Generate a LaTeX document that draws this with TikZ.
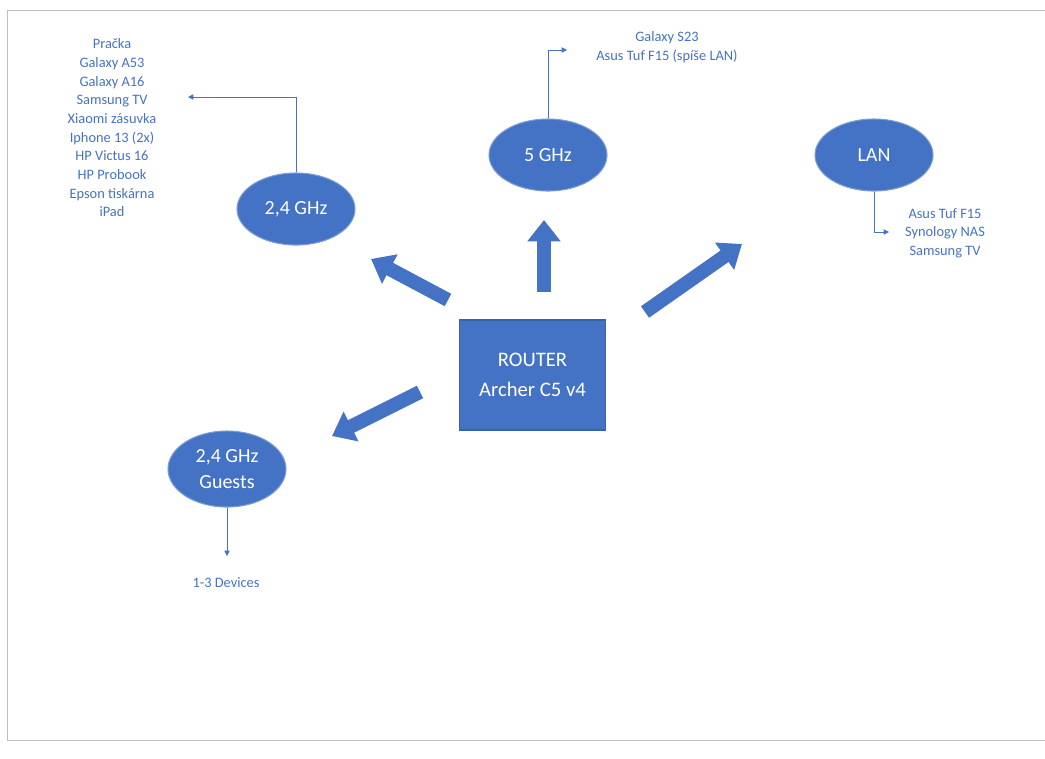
\documentclass[tikz,border=0pt]{standalone}
\usepackage{fontspec}
\setmainfont{Carlito}
\usetikzlibrary{arrows.meta,shapes.geometric}
\definecolor{blu}{HTML}{4472C4}
\definecolor{dblu}{HTML}{2F528F}
\begin{document}
\begin{tikzpicture}[x=0.75pt,y=-0.75pt,
  bubble/.style={ellipse,fill=blu,draw=blu!70,line width=0.8pt,minimum width=88.5pt,minimum height=54pt,text=white,font=\fontsize{15}{20}\selectfont,align=center,inner sep=0},
  big/.style={line width=10.5pt,draw=blu,-{Triangle[length=16pt,width=24pt]}},
  thin/.style={draw=blu,line width=0.6pt,-{Triangle[length=4pt,width=4pt]}},
  lbl/.style={text=blu,font=\fontsize{10.8}{14}\selectfont,align=center,inner sep=0}]
\useasboundingbox (0,0) rectangle (1045,758);
\draw[gray!50,line width=0.6pt] (7,10) rectangle (1045,740);
\node[draw=dblu!50!blu,fill=blu,line width=0.8pt,minimum width=110pt,minimum height=82.5pt,text=white,align=center,font=\fontsize{15.5}{22}\selectfont] (r) at (532.5,375) {ROUTER\\Archer C5 v4};
\node[bubble] (g24) at (296,209) {2,4 GHz};
\node[bubble] (g5) at (548,155) {5 GHz};
\node[bubble] (lan) at (874,155) {LAN};
\node[bubble,minimum height=57pt] (gg) at (227,469) {2,4 GHz\\Guests};
\coordinate (a1s) at (448,300); \coordinate (a1e) at (371,259);
\coordinate (a2s) at (544,292); \coordinate (a2e) at (544,220);
\coordinate (a3s) at (645,312); \coordinate (a3e) at (742,244);
\coordinate (a4s) at (420,392); \coordinate (a4e) at (332,436);
\draw[big] (a1s) -- (a1e);
\draw[big] (a2s) -- (a2e);
\draw[big] (a3s) -- (a3e);
\draw[big] (a4s) -- (a4e);
\node[lbl] (l1) at (112,128) {Pračka\\Galaxy A53\\Galaxy A16\\Samsung TV\\Xiaomi zásuvka\\Iphone 13 (2x)\\HP Victus 16\\HP Probook\\Epson tiskárna\\iPad};
\node[lbl] (l2) at (667,47) {Galaxy S23\\Asus Tuf F15 (spíše LAN)};
\node[lbl] (l3) at (945,233) {Asus Tuf F15\\Synology NAS\\Samsung TV};
\node[lbl] (l4) at (226,583) {1-3 Devices};
\coordinate (e1) at (188,97);
\coordinate (e2) at (567,50);
\coordinate (e3) at (889,232);
\coordinate (e4) at (227,556);
\draw[thin] (g24.north) |- (e1);
\draw[thin] (g5.north) |- (e2);
\draw[thin] (lan.south) |- (e3);
\draw[thin] (gg.south) -- (e4);
\end{tikzpicture}
\end{document}
